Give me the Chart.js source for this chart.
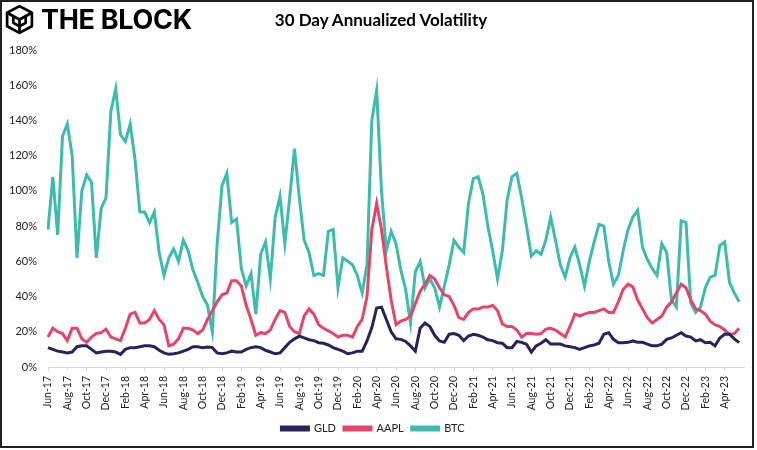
<!DOCTYPE html>
<html>
<head>
<meta charset="utf-8">
<script src="https://cdn.jsdelivr.net/npm/chart.js@4"></script>
<style>
  body { margin: 0; background: #fff; }
  #frame { position: relative; width: 754px; height: 448px; box-sizing: border-box; border: 2px solid #222; background: #fff; }
  #logo { position: absolute; left: 2px; top: 1px; display: flex; align-items: center; }
  #logo span { font-family: Inter, "DejaVu Sans", sans-serif; font-weight: 700; font-size: 27px; letter-spacing: -0.3px; color: #000; margin-left: 6px; }
  #title { position: absolute; left: 0; width: 754px; top: 7px; text-align: center; font-family: Lato, "Open Sans", sans-serif; font-weight: 700; font-size: 17px; color: #000; padding-left: 4px; box-sizing: border-box; }
  #box { position: absolute; left: 0; top: 0; width: 750px; height: 444px; }
</style>
</head>
<body>
<div id="frame">
  <div id="box"><canvas id="volChart"></canvas></div>
  <div id="logo">
    <svg width="31" height="31" viewBox="0 0 30 30" fill="none" stroke="#000" stroke-width="2.6" stroke-linejoin="round">
      <path d="M15 2 L27 8.5 L27 21.5 L15 28 L3 21.5 L3 8.5 Z"/>
      <path d="M3 8.5 L15 15 L27 8.5 M15 15 L15 28"/>
      <path d="M9 11.8 L9 18.2 L15 21.5 L21 18.2 L21 11.8"/>
    </svg>
    <span>THE BLOCK</span>
  </div>
  <div id="title">30 Day Annualized Volatility</div>
</div>
<script>
const tickLabels = ["Jun-17", "Aug-17", "Oct-17", "Dec-17", "Feb-18", "Apr-18", "Jun-18", "Aug-18", "Oct-18", "Dec-18",
  "Feb-19", "Apr-19", "Jun-19", "Aug-19", "Oct-19", "Dec-19", "Feb-20", "Apr-20", "Jun-20", "Aug-20",
  "Oct-20", "Dec-20", "Feb-21", "Apr-21", "Jun-21", "Aug-21", "Oct-21", "Dec-21", "Feb-22", "Apr-22",
  "Jun-22", "Aug-22", "Oct-22", "Dec-22", "Feb-23", "Apr-23"]

// two readings per month, Jun-17 .. Jun-23
const gld = [11, 10, 9, 8.5, 8, 8.5, 11.5, 12, 12, 10, 8, 8.5, 9, 9, 8.5, 7.2, 10, 11, 11, 11.5,
  12, 12, 11.5, 9.5, 8, 7.2, 7.5, 8, 9, 10, 11.5, 11.5, 11, 11.4, 11, 8, 7.5, 8, 9, 8.5,
  8.5, 10, 11, 11.5, 11, 9.5, 8.5, 7.5, 8, 11, 14, 16, 17.5, 16.5, 15.5, 15, 13.8, 13.5, 12.5, 11,
  10, 9, 7.5, 8, 9, 9, 14.8, 22.4, 33.5, 34, 27, 20, 16, 15.7, 14.5, 12, 9, 22, 25, 23,
  18, 14.8, 14, 18.6, 19, 18, 15, 17.6, 18.6, 18, 17, 15.5, 15, 13.8, 13.5, 11, 11, 14.5, 14, 12.9,
  8.5, 12, 13.5, 15.5, 13, 13, 13, 12, 11.5, 11, 10, 11, 12, 12.5, 13.5, 18.6, 19.5, 15.7, 13.8, 13.8,
  14, 14.8, 14, 14, 13, 12, 12, 13, 15.7, 16.5, 18, 19.5, 17.6, 17, 14.8, 15.5, 13.8, 14, 12, 16.5,
  18.6, 18.6, 16, 13.8, 12.5]

const aapl = [17, 22, 20, 19, 15, 22, 22, 16, 14, 17, 19, 19.5, 21.5, 17, 16, 15, 22, 30, 31, 25,
  25, 27, 32, 27, 24, 12, 13, 16, 22, 22, 21, 19, 21, 27, 32, 37, 41, 42, 49, 49,
  46, 35, 27, 18, 19.5, 19, 21, 27, 32, 31, 23, 20, 19, 29, 33, 30, 24, 22, 20.5, 19,
  17, 18, 18, 17, 23, 27, 40, 78, 93, 78, 57, 38, 24, 26, 27, 29, 36, 43, 47, 52,
  50, 45, 41, 40, 35, 28, 27, 31, 33, 33, 34, 34, 35, 32, 24.5, 23, 23, 21, 17, 19,
  19, 18.6, 19, 21.5, 22, 21, 19, 17, 23, 30, 29, 30, 31, 31, 32, 33, 31, 31, 37, 44,
  47, 45.5, 38, 33, 28, 25, 27, 29, 34, 37, 42, 47, 45, 38, 33, 32, 30, 26, 24, 23,
  21, 18.5, 19, 22, 19.5]

const btc = [78, 108, 75, 131, 138, 120, 62, 100, 109, 105, 62, 90, 96, 145, 158, 132, 128, 138, 118, 88,
  88, 82, 88, 65, 52, 62, 67, 60, 72, 66, 55, 48, 40, 35, 20, 70, 103, 110, 82, 84,
  56, 46, 53, 30, 64, 71, 50, 85, 97, 70, 96, 124, 96, 72, 65, 52, 53, 52, 77, 78,
  45, 62, 60, 58, 52, 42, 58, 140, 157, 100, 66, 77, 70, 55, 44, 25, 54, 60, 45, 50,
  45, 34, 46, 58, 72, 68, 65, 93, 107, 108, 98, 80, 66, 50, 66, 95, 108, 110, 96, 80,
  63, 66, 64, 72, 85, 72, 58, 51, 62, 68, 58, 46, 60, 71, 81, 80, 60, 47, 52, 66,
  78, 85, 89, 68, 61, 56, 52, 70, 65, 38, 34, 83, 82, 36, 31, 34, 45, 51, 52, 69,
  71, 48, 42, 37, 34]

const labels = gld.map(function (v, i) {
  return i % 4 === 0 ? tickLabels[i / 4] : ""
})

function line(name, values, color) {
  return {
    label: name,
    data: values,
    borderColor: color,
    backgroundColor: color,
    borderWidth: 3,
    pointRadius: 0,
    tension: 0,
  }
}

new Chart(document.getElementById("volChart"), {
  type: "line",
  data: {
    labels: labels,
    datasets: [
      line("GLD", gld, "#27235c"),
      line("AAPL", aapl, "#e6456b"),
      line("BTC", btc, "#3dbcae"),
    ],
  },
  options: {
    responsive: true,
    maintainAspectRatio: false,
    animation: false,
    layout: { padding: { top: 48, left: 0, right: 8, bottom: 2 } },
    plugins: {
      tooltip: { enabled: false },
      legend: {
        position: "bottom",
        labels: {
          boxWidth: 27,
          boxHeight: 3,
          padding: 8,
          color: "#222",
          font: { family: "Lato", size: 11 },
        },
      },
    },
    scales: {
      x: {
        afterFit: function (scale) {
          scale.height = 48
        },
        grid: { drawOnChartArea: false, drawTicks: true, tickLength: 4, color: "#d9d9d9" },
        border: { display: true, color: "#d9d9d9" },
        ticks: {
          autoSkip: false,
          minRotation: 90,
          maxRotation: 90,
          padding: 5,
          color: "#222",
          font: { family: "Lato", size: 10.5 },
          callback: function (value, index) {
            return index % 4 === 0 ? labels[index] : null
          },
        },
      },
      y: {
        min: 0,
        max: 180,
        afterFit: function (scale) {
          scale.width = 46
        },
        grid: { display: false, drawTicks: false },
        border: { display: false },
        ticks: {
          stepSize: 20,
          padding: 11,
          color: "#222",
          font: { family: "Lato", size: 11 },
          callback: function (value) {
            return value + "%"
          },
        },
      },
    },
  },
})
</script>
</body>
</html>
